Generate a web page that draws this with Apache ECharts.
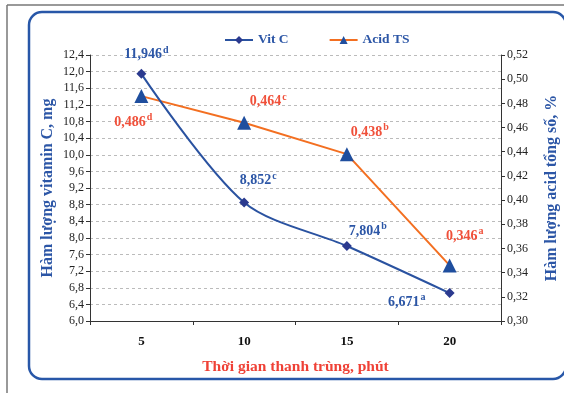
<!DOCTYPE html>
<html>
<head>
<meta charset="utf-8">
<script src="https://cdn.jsdelivr.net/npm/echarts@6/dist/echarts.min.js"></script>
<style>
html,body{margin:0;padding:0;background:#fff;}
#c{width:564px;height:393px;}
</style>
</head>
<body>
<div id="c"></div>
<script>
var categories = ['5', '10', '15', '20'];
var vitC = [11.946, 8.852, 7.804, 6.671];
var vitCLetters = ['d', 'c', 'b', 'a'];
var acidTS = [0.486, 0.464, 0.438, 0.346];
var acidLetters = ['d', 'c', 'b', 'a'];
var seriesNames = ['Vit C', 'Acid TS'];

// label offsets (layout only)
var vitCOffsets = [[5, -19], [14, -22], [21, -15], [-43, 9]];
var acidOffsets = [[-8, 26], [24, -21], [23, -22], [15, -29]];

var FONT = '"Liberation Serif", "DejaVu Serif", serif';
var BLUE = '#2C56A6';
var RED = '#F0503A';

function comma(v, d) { return v.toFixed(d).replace('.', ','); }

function build(vals, letters, offsets, dec, color) {
  return vals.map(function (v, i) {
    return {
      value: v,
      label: {
        show: true,
        position: 'inside',
        offset: offsets[i],
        formatter: '{v|' + comma(v, dec) + '}{s|' + letters[i] + '}',
        rich: {
          v: { fontFamily: FONT, fontWeight: 'bold', fontSize: 14, color: color },
          s: { fontFamily: FONT, fontWeight: 'bold', fontSize: 10, color: color, padding: [0, 0, 9, 1] }
        }
      }
    };
  });
}

var chart = echarts.init(document.getElementById('c'), null, { renderer: 'canvas' });
chart.setOption({
  backgroundColor: '#fff',
  animation: false,
  graphic: [
    { type: 'line', shape: { x1: 7, y1: 5, x2: 564, y2: 5 }, style: { stroke: '#777', lineWidth: 1.5 } },
    { type: 'line', shape: { x1: 7, y1: 5, x2: 7, y2: 393 }, style: { stroke: '#777', lineWidth: 1.5 } },
    { type: 'rect', shape: { x: 29, y: 12, width: 537, height: 367, r: 13 }, style: { fill: 'none', stroke: '#2857A8', lineWidth: 2.5 }, z: -1 }
  ],
  legend: {
    left: 219, top: 28,
    itemWidth: 28, itemHeight: 10, itemGap: 40,
    data: seriesNames,
    textStyle: { fontFamily: FONT, fontWeight: 'bold', fontSize: 13.5, color: BLUE }
  },
  grid: { left: 90, right: 63, top: 55, bottom: 72, outerBoundsMode: 'none', containLabel: false },
  xAxis: {
    type: 'category',
    data: categories,
    boundaryGap: true,
    axisLine: { lineStyle: { color: '#333', width: 1 } },
    axisTick: { show: true, length: 4, inside: false, lineStyle: { color: '#333' } },
    axisLabel: { margin: 14, fontFamily: FONT, fontWeight: 'bold', fontSize: 13, color: '#111' },
    name: 'Thời gian thanh trùng, phút',
    nameLocation: 'middle',
    nameGap: 38,
    nameMoveOverlap: false,
    nameTextStyle: { fontFamily: FONT, fontWeight: 'bold', fontSize: 15.5, color: '#EF4136' }
  },
  yAxis: [
    {
      type: 'value', min: 6.0, max: 12.4, interval: 0.4, position: 'left',
      axisLine: { show: true, lineStyle: { color: '#333' } },
      axisTick: { show: true, length: 4, lineStyle: { color: '#333' } },
      axisLabel: { margin: 6, fontFamily: FONT, fontSize: 12, color: '#222', formatter: function (v) { return comma(v, 1); } },
      splitLine: { show: true, lineStyle: { color: '#BBBBBB', type: [3, 3], width: 1 } },
      name: 'Hàm lượng vitamin C, mg',
      nameLocation: 'middle', nameRotate: 90, nameGap: 34,
      nameMoveOverlap: false,
      nameTextStyle: { fontFamily: FONT, fontWeight: 'bold', fontSize: 16, color: BLUE }
    },
    {
      type: 'value', min: 0.30, max: 0.52, interval: 0.02, position: 'right',
      axisLine: { show: true, lineStyle: { color: '#333' } },
      axisTick: { show: true, length: 4, lineStyle: { color: '#333' } },
      axisLabel: { margin: 6, fontFamily: FONT, fontSize: 12, color: '#222', formatter: function (v) { return comma(v, 2); } },
      splitLine: { show: false },
      name: 'Hàm lượng acid tổng số, %',
      nameLocation: 'middle', nameRotate: 90, nameGap: 43,
      nameMoveOverlap: false,
      nameTextStyle: { fontFamily: FONT, fontWeight: 'bold', fontSize: 16, color: BLUE }
    }
  ],
  series: [
    {
      name: seriesNames[0], type: 'line', yAxisIndex: 0,
      data: build(vitC, vitCLetters, vitCOffsets, 3, BLUE),
      smooth: 0.3,
      symbol: 'diamond', symbolSize: 10,
      lineStyle: { color: '#2A52A0', width: 2 },
      itemStyle: { color: '#2B3A8F' },
      z: 3
    },
    {
      name: seriesNames[1], type: 'line', yAxisIndex: 1,
      data: build(acidTS, acidLetters, acidOffsets, 3, RED),
      symbol: 'triangle', symbolSize: 14,
      lineStyle: { color: '#F36F21', width: 2 },
      itemStyle: { color: '#1F4E9E' },
      z: 2
    }
  ]
});
</script>
</body>
</html>
